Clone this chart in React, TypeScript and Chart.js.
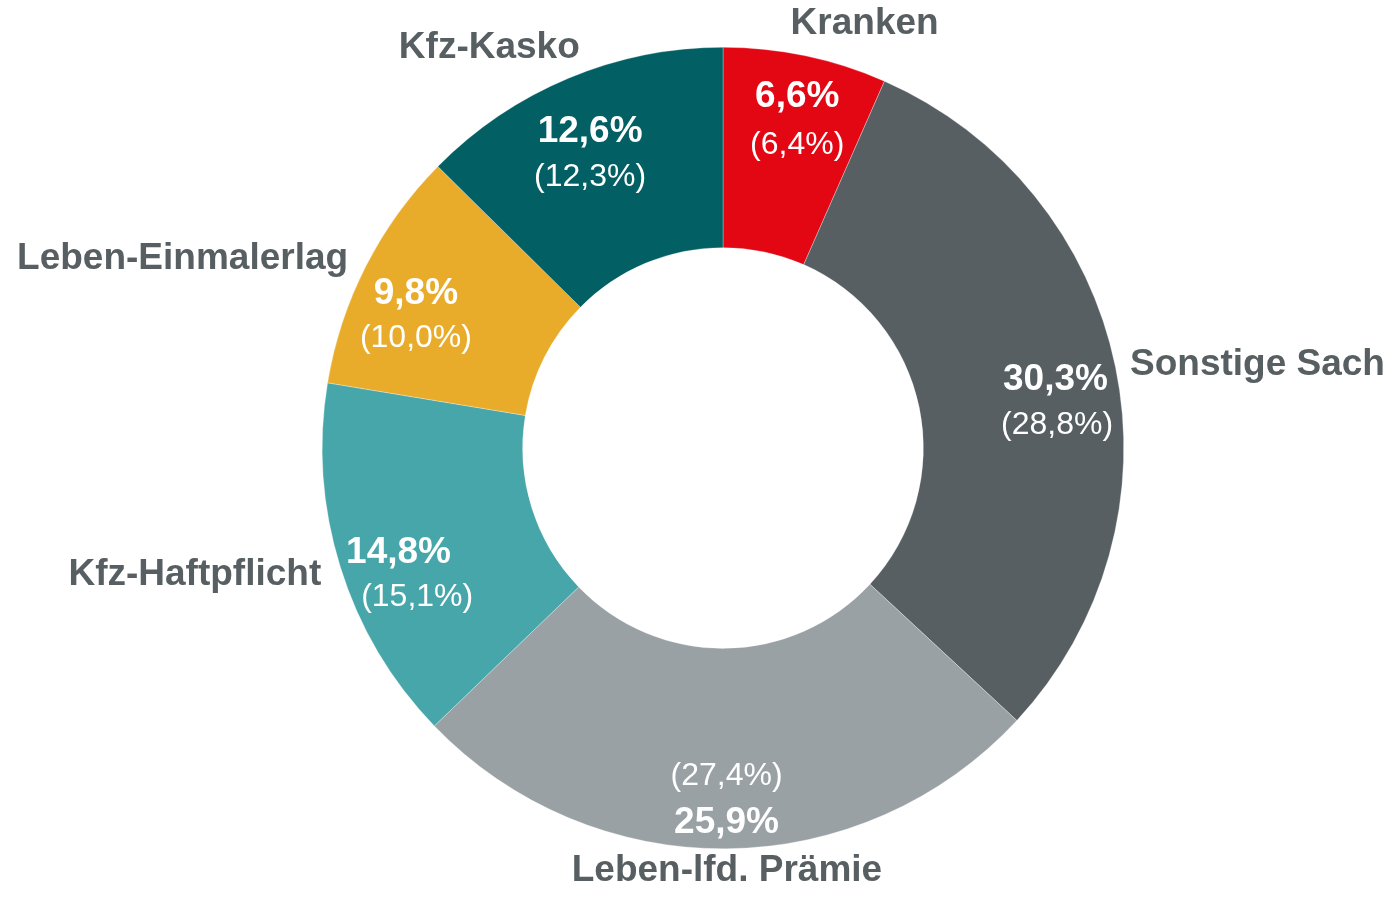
import { useEffect, useRef } from "react";
import { Chart, registerables } from "chart.js";

Chart.register(...registerables);

const categories = [
  "Kranken",
  "Sonstige Sach",
  "Leben-lfd. Prämie",
  "Kfz-Haftpflicht",
  "Leben-Einmalerlag",
  "Kfz-Kasko",
];
const currentShare = [6.6, 30.3, 25.9, 14.8, 9.8, 12.6];
const previousShare = [6.4, 28.8, 27.4, 15.1, 10.0, 12.3];
const sliceColors = ["#E30613", "#575F62", "#9AA1A4", "#47A6AA", "#E8AB2A", "#025F63"];

const FONT = '"Liberation Sans", Arial, sans-serif';
const LABEL_GRAY = "#575F62";

const fmt = (v: number) => v.toFixed(1).replace(".", ",") + "%";

// keep a centred text line inside the outer circle (with a small margin)
function clampX(
  ctx: CanvasRenderingContext2D,
  text: string,
  tx: number,
  ty: number,
  cx: number,
  cy: number,
  R: number,
  margin: number
) {
  const half = ctx.measureText(text).width / 2;
  const dy = ty - cy;
  if (Math.abs(dy) >= R) return tx;
  const ext = Math.sqrt(R * R - dy * dy);
  const minX = cx - ext + margin + half;
  const maxX = cx + ext - margin - half;
  if (tx < minX) return minX;
  if (tx > maxX) return maxX;
  return tx;
}

const labelPlugin = {
  id: "sliceLabels",
  afterDatasetsDraw(chart: any) {
    const ctx = chart.ctx as CanvasRenderingContext2D;
    const meta = chart.getDatasetMeta(0);
    ctx.save();
    meta.data.forEach((arc: any, i: number) => {
      const { x, y, startAngle, endAngle, innerRadius, outerRadius } = arc.getProps(
        ["x", "y", "startAngle", "endAngle", "innerRadius", "outerRadius"],
        true
      );
      const mid = (startAngle + endAngle) / 2;
      const span = endAngle - startAngle;
      const cos = Math.cos(mid);
      const sin = Math.sin(mid);
      const ring = outerRadius - innerRadius;

      // inner labels: bold current share on the mid-angle, previous share below it
      // (above it for the bottom slice); narrow slices push the text outwards
      const flip = sin > 0.9;
      const rBold = flip
        ? outerRadius - 0.14 * ring
        : innerRadius + (span < 0.5 ? 0.8 : 0.72) * ring;
      const bx = x + rBold * cos;
      const by = y + rBold * sin + 2;
      const py = by + (flip ? -47 : span < 0.5 ? 48 : 45);
      ctx.fillStyle = "#ffffff";
      ctx.textAlign = "center";
      ctx.textBaseline = "middle";
      const boldText = fmt(currentShare[i]);
      const prevText = "(" + fmt(previousShare[i]) + ")";
      ctx.font = `bold 37px ${FONT}`;
      ctx.fillText(boldText, clampX(ctx, boldText, bx, by, x, y, outerRadius, 10), by);
      ctx.font = `32px ${FONT}`;
      ctx.fillText(prevText, clampX(ctx, prevText, bx, py, x, y, outerRadius, 10), py);

      // outer category labels
      const rOut = outerRadius + 20;
      let ox = x + rOut * cos;
      let oy = y + rOut * sin;
      if (sin < -0.85) {
        ox -= Math.sign(cos) * 19;
        oy -= 14;
      }
      ctx.fillStyle = LABEL_GRAY;
      ctx.font = `bold 37px ${FONT}`;
      ctx.textAlign = Math.abs(cos) < 0.15 ? "center" : cos > 0 ? "left" : "right";
      ctx.textBaseline = "middle";
      ctx.fillText(categories[i], ox - (cos > 0.9 ? 5 : 0), oy + 2);
    });
    ctx.restore();
  },
};

export default function App() {
  const ref = useRef<HTMLCanvasElement | null>(null);

  useEffect(() => {
    if (!ref.current) return;
    const chart = new Chart(ref.current, {
      type: "doughnut",
      data: {
        labels: categories,
        datasets: [
          {
            data: currentShare,
            backgroundColor: sliceColors,
            borderColor: "rgba(255,255,255,0.6)",
            borderWidth: 0.5,
          },
        ],
      },
      options: {
        animation: false,
        responsive: true,
        maintainAspectRatio: false,
        cutout: "50%",
        layout: { padding: { left: 100, right: 48, top: 47, bottom: 49 } },
        plugins: {
          legend: { display: false },
          tooltip: { enabled: false },
        },
      },
      plugins: [labelPlugin],
    });
    return () => chart.destroy();
  }, []);

  return (
    <div
      style={{
        position: "fixed",
        left: 0,
        top: 0,
        width: 1394,
        height: 898,
        background: "#ffffff",
      }}
    >
      <canvas ref={ref} />
    </div>
  );
}
